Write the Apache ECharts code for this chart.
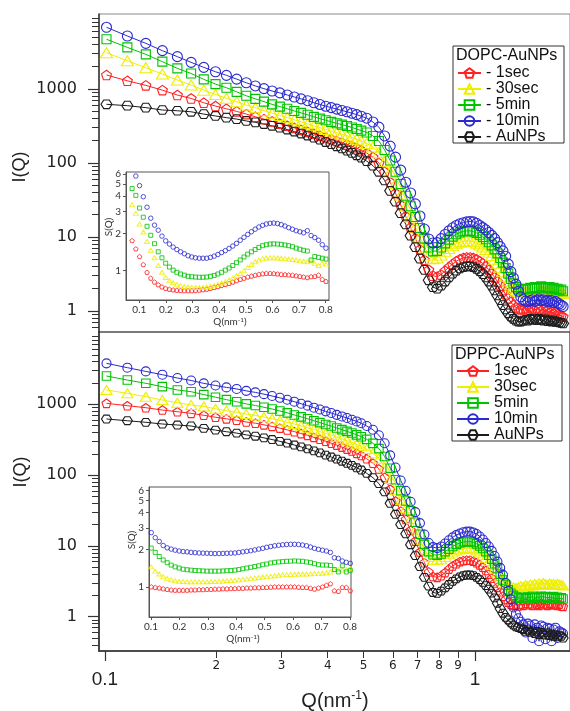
<!DOCTYPE html>
<html><head><meta charset="utf-8">
<script src="https://cdn.jsdelivr.net/npm/echarts@6/dist/echarts.min.js"></script>
<style>html,body{margin:0;padding:0;background:#fff}#c{width:570px;height:711px}</style>
</head><body><div id="c"></div>
<script>
// ---------- DATA ----------
const Q = [0.101,0.115,0.129,0.143,0.157,0.171,0.185,0.199,0.213,0.227,0.241,0.255,0.269,0.283,0.297,0.311,0.325,0.339,0.353,0.367,0.381,0.395,0.409,0.423,0.437,0.451,0.465,0.479,0.493,
0.51,0.53,0.55,0.57,0.59,0.61,0.63,0.65,0.67,0.69,0.71,0.73,0.75,0.77,0.79,
0.81,0.83,0.85,0.87,0.89,0.91,0.93,0.95,0.97,0.99,1.01,1.03,1.05,1.07,1.09,
1.11,1.13,1.15,1.17,1.19,1.21,1.23,1.25,1.27,1.29,1.31,1.33,1.35,1.37,1.39,
1.41,1.43,1.45,1.47,1.49,1.51,1.53,1.55,1.57,1.59,1.61,1.63,1.65,1.67,1.69,1.71,1.73];

const seriesNames = ['1sec','30sec','5min','10min','AuNPs'];

// DOPC-AuNPs panel, I(Q)
const top1sec = [1545,1290,1120,965,828,745,652,588,540,498,458,422,392,365,340,318,298,280,263,248,234,221,209,198,188,178,168,158,148,
136,120,100,76,55,39,27,19,13.5,9.6,6.8,4.9,3.6,3.0,2.9,
3.1,3.5,3.9,4.3,4.7,5.0,5.2,5.3,5.3,5.2,5.0,4.7,4.4,4.0,3.6,
3.2,2.85,2.5,2.2,1.92,1.68,1.48,1.32,1.2,1.12,1.08,1.05,1.06,1.1,1.05,
1.12,1.08,1.02,1.1,1.05,1.0,1.06,0.98,1.02,0.95,0.98,0.92,0.95,0.9,0.88,0.86,0.84];
const top30sec = [3090,2400,1940,1590,1320,1130,965,845,748,672,606,558,510,470,438,410,383,360,338,318,300,284,270,257,245,233,222,210,198,
184,164,138,104,75,53,37,26,18.8,13.6,9.9,7.3,5.7,5.1,5.2,
5.7,6.4,7.0,7.6,8.1,8.5,8.7,8.8,8.8,8.6,8.2,7.8,7.3,6.8,6.2,
5.6,5.0,4.4,3.9,3.4,2.95,2.55,2.25,2.05,1.9,1.85,1.8,1.82,1.85,1.8,
1.88,1.82,1.9,1.85,1.8,1.9,1.85,1.8,1.86,1.8,1.84,1.78,1.82,1.76,1.8,1.75,1.72];
const top5min = [4700,3650,2940,2340,1900,1620,1350,1165,1040,915,810,735,675,620,578,540,505,475,448,420,398,378,360,344,330,316,302,288,274,
258,232,198,150,108,76,52,36,26,18.6,13.2,9.5,7.2,6.4,6.5,
7.2,8.2,9.2,10.1,10.9,11.5,11.9,12.1,12.1,11.8,11.3,10.7,10.0,9.3,8.5,
7.7,6.8,6.0,5.2,4.5,3.8,3.2,2.7,2.35,2.1,2.0,1.95,1.95,2.0,1.95,
2.05,2.0,2.1,2.0,2.05,2.15,2.05,2.1,2.0,2.1,1.95,2.05,1.95,2.0,1.9,1.95,1.85];
const top10min = [6820,5200,4140,3295,2735,2290,1960,1710,1530,1360,1215,1100,1010,940,885,830,780,735,695,652,618,585,560,535,512,492,470,450,428,
403,358,305,232,169,120,80,55,39.3,28,19.2,12.8,9.4,8.3,8.4,
9.5,10.8,12.1,13.3,14.3,15.1,15.6,16.0,16.2,16.0,15.3,14.3,13.4,12.5,11.5,
10.5,9.5,8.4,7.4,6.5,5.5,4.3,3.4,2.8,2.3,1.85,1.55,1.42,1.36,1.33,
1.38,1.42,1.35,1.4,1.45,1.38,1.42,1.36,1.4,1.33,1.38,1.3,1.35,1.28,1.25,1.2,1.15];
const topAuNPs = [621,595,560,520,508,492,458,432,410,392,370,354,336,318,300,283,266,250,235,220,206,192,180,168,157,147,137,127,118,
106,92,76,58,42,30,21,14.8,10.4,7.3,5.1,3.6,2.6,2.1,2.0,
2.2,2.5,2.85,3.2,3.5,3.75,3.9,4.0,4.0,3.9,3.7,3.45,3.15,2.85,2.5,
2.2,1.9,1.62,1.4,1.2,1.05,0.93,0.84,0.78,0.74,0.72,0.72,0.74,0.76,0.74,
0.78,0.76,0.79,0.75,0.78,0.76,0.74,0.77,0.73,0.75,0.72,0.74,0.71,0.72,0.7,0.69,0.68];

// DPPC-AuNPs panel, I(Q)
const bot1sec = [1033,955,895,830,786,746,700,657,623,596,562,541,513,488,461,435,411,386,365,341,321,301,282,265,249,233,219,203,189,
170,147,122,93,63,43,31,23.7,16.6,11.7,8.2,5.8,4.3,3.7,3.6,
3.8,4.2,4.7,5.2,5.6,6.0,6.2,6.3,6.3,6.1,5.8,5.4,5.0,4.5,4.0,
3.5,3.0,2.6,2.25,1.95,1.75,1.6,1.5,1.45,1.48,1.42,1.5,1.45,1.55,1.48,
1.52,1.45,1.58,1.5,1.45,1.55,1.48,1.52,1.45,1.55,1.5,1.47,1.52,1.45,1.5,1.42,1.4];
const bot30sec = [1592,1430,1280,1150,1054,977,932,864,813,770,727,695,660,625,589,556,527,496,466,440,412,387,366,345,325,307,289,272,255,
233,204,170,129,88,61,44,34,24,17,12.2,9.0,7.0,6.4,6.3,
6.5,7.0,7.6,8.1,8.6,8.9,9.2,9.3,9.25,9.0,8.6,8.1,7.5,6.8,6.1,
5.4,4.8,4.2,3.7,3.3,3.0,2.8,2.7,2.6,2.55,2.6,2.7,2.65,2.8,2.7,
2.85,2.75,2.9,2.8,2.95,2.85,3.0,2.9,2.8,2.95,2.85,2.9,2.8,2.9,2.85,2.8,2.75];
const bot5min = [2510,2200,1980,1775,1592,1507,1371,1260,1163,1089,1013,962,907,858,804,758,707,665,625,585,552,518,493,463,439,414,394,370,349,
320,281,237,183,125,86,60,43,31.3,21.6,14.6,10.5,8.3,7.5,7.4,
7.7,8.3,9.0,9.8,10.5,11.0,11.4,11.5,11.5,11.2,10.7,10.0,9.2,8.3,7.4,
6.5,5.6,4.8,4.0,3.3,2.8,2.4,2.15,2.0,1.9,1.85,1.82,1.88,1.8,1.9,
1.85,1.95,1.82,1.9,1.85,1.95,1.88,1.92,1.82,1.9,1.85,1.92,1.8,1.88,1.82,1.85,1.78];
const bot10min = [3790,3290,2915,2620,2350,2170,1976,1845,1733,1648,1548,1473,1391,1309,1235,1159,1089,1018,957,896,844,795,753,710,674,641,606,573,540,
494,437,366,282,190,128,84,60,42,30,21,14.5,11.0,9.6,9.3,
9.8,10.8,12.0,13.2,14.2,15.0,15.6,15.9,15.9,15.5,14.7,13.6,12.3,11.0,9.8,
8.5,7.2,6.0,4.9,3.9,3.0,2.3,1.75,1.35,1.1,0.95,0.85,0.78,0.6,0.8,
0.75,0.5,0.78,0.7,0.45,0.75,0.72,0.48,0.7,0.68,0.45,0.66,0.7,0.5,0.62,0.6,0.58];
const botAuNPs = [620,586,557,527,510,494,458,432,410,392,370,354,336,318,300,283,266,250,235,220,206,192,180,168,157,147,137,127,118,
106,92,76,58,40,28,20,14.8,10.4,7.3,5.1,3.6,2.7,2.2,2.14,
2.3,2.55,2.85,3.15,3.42,3.65,3.8,3.88,3.88,3.8,3.6,3.35,3.05,2.75,2.45,
2.15,1.85,1.55,1.3,1.12,0.98,0.9,0.82,0.76,0.72,0.7,0.68,0.66,0.62,0.65,
0.6,0.63,0.58,0.62,0.56,0.6,0.57,0.55,0.59,0.54,0.57,0.53,0.56,0.52,0.55,0.53,0.5];

// Insets, S(Q)
const QS = [0.073,0.087,0.101,0.115,0.129,0.143,0.157,0.171,0.185,0.199,0.213,0.227,0.241,0.255,0.269,0.283,0.297,0.311,0.325,0.339,0.353,0.367,0.381,0.395,0.409,0.423,0.437,0.451,0.465,0.479,0.493,0.507,0.521,0.535,0.549,0.563,0.577,0.591,0.605,0.619,0.633,0.647,0.661,0.675,0.689,0.703,0.717,0.731,0.745,0.759,0.773,0.787,0.801];
const sTop1sec = [1.75,1.5,1.3,1.12,0.97,0.87,0.81,0.77,0.74,0.72,0.708,0.7,0.695,0.692,0.69,0.69,0.69,0.692,0.697,0.703,0.71,0.72,0.732,0.745,0.76,0.775,0.79,0.81,0.83,0.85,0.87,0.89,0.905,0.92,0.935,0.945,0.952,0.952,0.948,0.942,0.935,0.93,0.925,0.92,0.91,0.9,0.89,0.88,0.895,0.9,0.92,0.85,0.82];
const sTop30sec = [3.4,2.9,2.38,2.05,1.72,1.46,1.27,1.1,0.97,0.88,0.83,0.8,0.775,0.757,0.745,0.737,0.733,0.731,0.731,0.733,0.738,0.746,0.758,0.775,0.795,0.815,0.84,0.87,0.91,0.95,1.0,1.06,1.12,1.18,1.22,1.25,1.265,1.27,1.27,1.265,1.26,1.25,1.24,1.23,1.22,1.2,1.19,1.18,1.2,1.14,1.1,1.15,1.13];
const sTop5min = [4.6,4.05,3.2,2.7,2.28,1.93,1.65,1.42,1.27,1.15,1.07,1.01,0.97,0.94,0.92,0.9,0.893,0.888,0.885,0.885,0.888,0.9,0.915,0.94,0.97,1.01,1.05,1.1,1.16,1.22,1.29,1.36,1.42,1.48,1.54,1.59,1.62,1.64,1.645,1.64,1.63,1.61,1.59,1.56,1.52,1.49,1.46,1.44,1.22,1.3,1.28,1.26,1.24];
const sTop10min = [null,5.8,4.85,3.95,3.25,2.65,2.33,2.12,1.9,1.74,1.64,1.55,1.48,1.42,1.37,1.32,1.29,1.27,1.26,1.26,1.26,1.28,1.31,1.35,1.4,1.45,1.51,1.58,1.66,1.76,1.86,1.96,2.06,2.16,2.25,2.32,2.38,2.41,2.42,2.4,2.35,2.29,2.22,2.16,2.1,2.06,2.02,2.1,1.92,1.85,1.76,1.62,1.52];
const sBot1sec = [null,null,1.0,0.99,0.98,0.965,0.955,0.945,0.94,0.94,0.94,0.94,0.945,0.945,0.95,0.95,0.955,0.955,0.96,0.96,0.965,0.965,0.97,0.97,0.975,0.975,0.98,0.98,0.985,0.985,0.99,0.99,0.995,1.0,1.0,1.0,1.0,1.0,1.0,0.995,0.99,0.99,0.975,0.96,0.98,1.0,1.03,1.06,0.93,0.92,0.99,0.99,0.93];
const sBot30sec = [null,null,1.45,1.34,1.27,1.21,1.17,1.14,1.12,1.11,1.105,1.1,1.1,1.1,1.1,1.1,1.1,1.105,1.105,1.11,1.115,1.12,1.125,1.13,1.14,1.15,1.16,1.17,1.18,1.19,1.2,1.21,1.22,1.23,1.24,1.25,1.255,1.26,1.265,1.27,1.27,1.27,1.275,1.28,1.28,1.29,1.3,1.32,1.38,1.38,1.37,1.38,1.4];
const sBot5min = [null,null,2.06,1.9,1.76,1.65,1.57,1.5,1.45,1.42,1.39,1.375,1.365,1.355,1.35,1.345,1.34,1.34,1.34,1.34,1.345,1.35,1.355,1.365,1.38,1.4,1.42,1.44,1.46,1.48,1.51,1.53,1.56,1.58,1.59,1.6,1.61,1.615,1.62,1.615,1.61,1.59,1.57,1.54,1.51,1.5,1.5,1.49,1.38,1.32,1.48,1.32,1.36];
const sBot10min = [null,null,2.75,2.5,2.33,2.16,2.07,2.02,1.98,1.95,1.93,1.92,1.9,1.89,1.88,1.875,1.87,1.865,1.86,1.86,1.865,1.87,1.875,1.88,1.9,1.92,1.94,1.96,1.99,2.02,2.05,2.09,2.12,2.15,2.17,2.19,2.2,2.21,2.21,2.2,2.18,2.15,2.1,2.05,2.01,1.98,1.95,1.9,1.72,1.7,1.62,1.58,1.55];

// Tick values
const xMajorTicks = [0.1, 1];
const xMinorTicks = [0.2,0.3,0.4,0.5,0.6,0.7,0.8,0.9];
const yMajorTicks = [1, 10, 100, 1000];
const yMinorTicks = [0.3,0.4,0.5,0.6,0.7,0.8,0.9,2,3,4,5,6,7,8,9,20,30,40,50,60,70,80,90,200,300,400,500,600,700,800,900,2000,3000,4000,5000,6000,7000,8000,9000];
const insetXTicks = [0.1,0.2,0.3,0.4,0.5,0.6,0.7,0.8];
const insetYTicks = [1,2,3,4,5,6];
const insetYLabelsOdd = [1,3,5];
const insetYLabelsEven = [2,4,6];

// ---------- STYLE ----------
const lg = v => Math.log10(v);
const colors = ['#ff2222','#eeee00','#00c200','#2a2ad0','#1c1c1c'];
const PENT = 'path://M0,-10L9.51,-3.09L5.88,8.09L-5.88,8.09L-9.51,-3.09Z';
const HEX = 'path://M-5,-8.66L5,-8.66L10,0L5,8.66L-5,8.66L-10,0Z';
const symbols = [PENT,'triangle','rect','circle',HEX];
const sizesTop = [10,[12,10],9,10,[11,10]];
const sizesBot = [9,[11,9],8.5,9,[10,9]];
const sizesIn = [4.5,[5,4],4,4.5,4];

const X_RANGE = [0.0964, 1.806];
const Y_TOP = [0.52, 10315];
const Y_BOT = [0.328, 10500];
const SI_TOP = [0.58, 6.25];
const SI_BOT = [0.57, 6.43];
const XI_TOP = [0.05, 0.8123];
const XI_BOT = [0.093, 0.8035];

const AX = '#333';
const tickFont = 'DejaVu Sans';
const sansFont = 'Liberation Sans';
const inFont = 'Lato';

function mainSeries(arr, i, xi, yi, sizes) {
  return {
    type:'line', name: seriesNames[i], xAxisIndex:xi, yAxisIndex:yi,
    data: Q.map((q,k)=>[q, arr[k]]),
    symbol: symbols[i], symbolSize: sizes[i], symbolKeepAspect:true, showAllSymbol:true,
    lineStyle:{color:colors[i], width:1},
    itemStyle:{color:'rgba(255,255,255,0)', borderColor:colors[i], borderWidth:1.1},
    emphasis:{disabled:true}, animation:false, clip:true, z:2
  };
}
function insetSeries(arr, i, xi, yi) {
  return {
    type:'scatter', name:'in'+seriesNames[i], xAxisIndex:xi, yAxisIndex:yi,
    data: QS.map((q,k)=>[q, arr[k]]).filter(d=>d[1]!=null),
    symbol: symbols[i], symbolSize: sizesIn[i], symbolKeepAspect:true,
    itemStyle:{color:'rgba(255,255,255,0)', borderColor:colors[i], borderWidth:1},
    emphasis:{disabled:true}, animation:false, z:12
  };
}

const hidden = (type, gi, r) => ({type, gridIndex:gi, min:r[0], max:r[1], show:false});

function yMajor(gi, r) {
  return {type:'value', gridIndex:gi, position:'left', min:lg(r[0]), max:lg(r[1]),
    axisLine:{show:true, onZero:false, lineStyle:{color:AX, width:1.5}},
    splitLine:{show:false},
    axisTick:{show:true, customValues: yMajorTicks.map(lg), length:11, lineStyle:{color:AX, width:1.2}},
    axisLabel:{show:true, hideOverlap:false, customValues: yMajorTicks.map(lg), margin:22,
      formatter: v => String(Math.round(Math.pow(10, v))),
      fontFamily:tickFont, fontSize:16, color:'#222'}};
}
function yMinor(gi, r) {
  return {type:'value', gridIndex:gi, position:'left', min:lg(r[0]), max:lg(r[1]),
    axisLine:{show:false, onZero:false}, splitLine:{show:false},
    axisTick:{show:true, customValues: yMinorTicks.map(lg), length:7, lineStyle:{color:AX, width:1}},
    axisLabel:{show:false}};
}
function insetX(gi, r) {
  return {type:'value', gridIndex:gi, position:'bottom', min:r[0], max:r[1], z:11,
    axisLine:{show:true, onZero:false, lineStyle:{color:'#555', width:1}}, splitLine:{show:false},
    axisTick:{show:true, customValues:insetXTicks, length:3, lineStyle:{color:'#555'}},
    axisLabel:{show:true, hideOverlap:false, customValues:insetXTicks, margin:5, formatter: v => v.toFixed(1),
      fontFamily:inFont, fontSize:10, color:'#333'}};
}
function insetY(gi, r, labels, withLine) {
  return {type:'value', gridIndex:gi, position:'left', min:lg(r[0]), max:lg(r[1]), z:11,
    axisLine:{show:withLine, onZero:false, lineStyle:{color:'#555'}}, splitLine:{show:false},
    axisTick:{show:withLine, customValues:insetYTicks.map(lg), length:3, lineStyle:{color:'#555'}},
    axisLabel:{show:true, hideOverlap:false, showMaxLabel:true, showMinLabel:true, customValues:labels.map(lg), margin:5,
      formatter: v => String(Math.round(Math.pow(10, v))), fontFamily:inFont, fontSize:10, color:'#333'}};
}

const option = {
  animation:false,
  backgroundColor:'#fff',
  grid:[
    {left:99, top:14, width:476, height:318, show:true, borderColor:'#8a8a8a', borderWidth:1, backgroundColor:'transparent'},
    {left:99, top:332, width:476, height:319, show:true, borderColor:'#333', borderWidth:1.2, backgroundColor:'transparent'},
    {left:126, top:172, width:203, height:128, show:true, borderColor:'#555', borderWidth:1, backgroundColor:'#fff', z:10},
    {left:149, top:487, width:202, height:130, show:true, borderColor:'#555', borderWidth:1, backgroundColor:'#fff', z:10}
  ],
  xAxis:[
    hidden('log',0,X_RANGE),
    hidden('log',1,X_RANGE),
    {type:'value', gridIndex:1, position:'bottom', min:lg(X_RANGE[0]), max:lg(X_RANGE[1]),
      axisLine:{show:true, onZero:false, lineStyle:{color:AX, width:1.5}}, splitLine:{show:false},
      axisTick:{show:true, customValues:xMajorTicks.map(lg), length:10, lineStyle:{color:AX, width:1.2}},
      axisLabel:{show:true, hideOverlap:false, customValues:xMajorTicks.map(lg), margin:19,
        formatter: v => (Math.abs(v+1)<1e-6 ? '0.1' : '1'),
        fontFamily:sansFont, fontSize:19, color:'#222'}},
    {type:'value', gridIndex:1, position:'bottom', min:lg(X_RANGE[0]), max:lg(X_RANGE[1]),
      axisLine:{show:false, onZero:false}, splitLine:{show:false},
      axisTick:{show:true, customValues:xMinorTicks.map(lg), length:7, lineStyle:{color:AX, width:1}},
      axisLabel:{show:true, hideOverlap:false, customValues:xMinorTicks.map(lg), margin:9,
        formatter: v => String(Math.round(Math.pow(10, v)*10)),
        fontFamily:tickFont, fontSize:12, color:'#222'}},
    insetX(2, XI_TOP),
    insetX(3, XI_BOT)
  ],
  yAxis:[
    hidden('log',0,Y_TOP),
    yMajor(0, Y_TOP),
    yMinor(0, Y_TOP),
    hidden('log',1,Y_BOT),
    yMajor(1, Y_BOT),
    yMinor(1, Y_BOT),
    hidden('log',2,SI_TOP),
    insetY(2, SI_TOP, insetYLabelsOdd, true),
    hidden('log',3,SI_BOT),
    insetY(3, SI_BOT, insetYLabelsOdd, true),
    insetY(2, SI_TOP, insetYLabelsEven, false),
    insetY(3, SI_BOT, insetYLabelsEven, false)
  ],
  legend:[
    {left:457, top:65, orient:'vertical', itemGap:0, itemWidth:23, itemHeight:12, selectedMode:false, padding:0,
      data:seriesNames, formatter: n => '- ' + n, z:21,
      textStyle:{fontFamily:sansFont, fontSize:16, color:'#111', lineHeight:15}},
    {left:456, top:363, orient:'vertical', itemGap:0, itemWidth:32, itemHeight:12, selectedMode:false, padding:0,
      data:seriesNames, formatter: n => n, z:21,
      textStyle:{fontFamily:sansFont, fontSize:16, color:'#111', lineHeight:15}}
  ],
  graphic:[
    {type:'rect', z:20, shape:{x:453, y:46, width:111, height:97}, style:{fill:'#fff', stroke:'#333', lineWidth:1}},
    {type:'text', z:21, x:456, y:55.5, style:{text:'DOPC-AuNPs', fontFamily:sansFont, fontSize:16, fill:'#111', verticalAlign:'middle'}},
    {type:'rect', z:20, shape:{x:452, y:345, width:110, height:96}, style:{fill:'#fff', stroke:'#333', lineWidth:1}},
    {type:'text', z:21, x:455, y:355, style:{text:'DPPC-AuNPs', fontFamily:sansFont, fontSize:16, fill:'#111', verticalAlign:'middle'}},
    {type:'text', z:21, x:20, y:167, rotation:Math.PI/2, style:{text:'I(Q)', fontFamily:sansFont, fontSize:18, fill:'#222', align:'center', verticalAlign:'middle'}},
    {type:'text', z:21, x:21, y:472, rotation:Math.PI/2, style:{text:'I(Q)', fontFamily:sansFont, fontSize:18, fill:'#222', align:'center', verticalAlign:'middle'}},
    {type:'text', z:21, x:335, y:701, style:{text:'{a|Q(nm}{s|-1}{a|)}', align:'center', verticalAlign:'middle', fill:'#222',
      rich:{a:{fontFamily:sansFont, fontSize:20, lineHeight:22, fill:'#222'}, s:{fontFamily:sansFont, fontSize:12, verticalAlign:'top', fill:'#222'}}}},
    {type:'text', z:21, x:109, y:227, rotation:Math.PI/2, style:{text:'S(Q)', fontFamily:inFont, fontSize:10, fill:'#333', align:'center', verticalAlign:'middle'}},
    {type:'text', z:21, x:132, y:540, rotation:Math.PI/2, style:{text:'S(Q)', fontFamily:inFont, fontSize:10, fill:'#333', align:'center', verticalAlign:'middle'}},
    {type:'text', z:21, x:230, y:322, style:{text:'{a|Q(nm}{s|-1}{a|)}', align:'center', verticalAlign:'middle', fill:'#333',
      rich:{a:{fontFamily:inFont, fontSize:10, lineHeight:12, fill:'#333'}, s:{fontFamily:inFont, fontSize:6.5, verticalAlign:'top', fill:'#333'}}}},
    {type:'text', z:21, x:243, y:639, style:{text:'{a|Q(nm}{s|-1}{a|)}', align:'center', verticalAlign:'middle', fill:'#333',
      rich:{a:{fontFamily:inFont, fontSize:10, lineHeight:12, fill:'#333'}, s:{fontFamily:inFont, fontSize:6.5, verticalAlign:'top', fill:'#333'}}}}
  ],
  series:[
    mainSeries(top1sec,0,0,0,sizesTop), mainSeries(top30sec,1,0,0,sizesTop), mainSeries(top5min,2,0,0,sizesTop),
    mainSeries(top10min,3,0,0,sizesTop), mainSeries(topAuNPs,4,0,0,sizesTop),
    mainSeries(bot1sec,0,1,3,sizesBot), mainSeries(bot30sec,1,1,3,sizesBot), mainSeries(bot5min,2,1,3,sizesBot),
    mainSeries(bot10min,3,1,3,sizesBot), mainSeries(botAuNPs,4,1,3,sizesBot),
    insetSeries(sTop1sec,0,4,6), insetSeries(sTop30sec,1,4,6), insetSeries(sTop5min,2,4,6), insetSeries(sTop10min,3,4,6),
    insetSeries(sBot1sec,0,5,8), insetSeries(sBot30sec,1,5,8), insetSeries(sBot5min,2,5,8), insetSeries(sBot10min,3,5,8)
  ]
};
const chart = echarts.init(document.getElementById('c'), null, {renderer:'canvas'});
chart.setOption(option);
</script></body></html>
